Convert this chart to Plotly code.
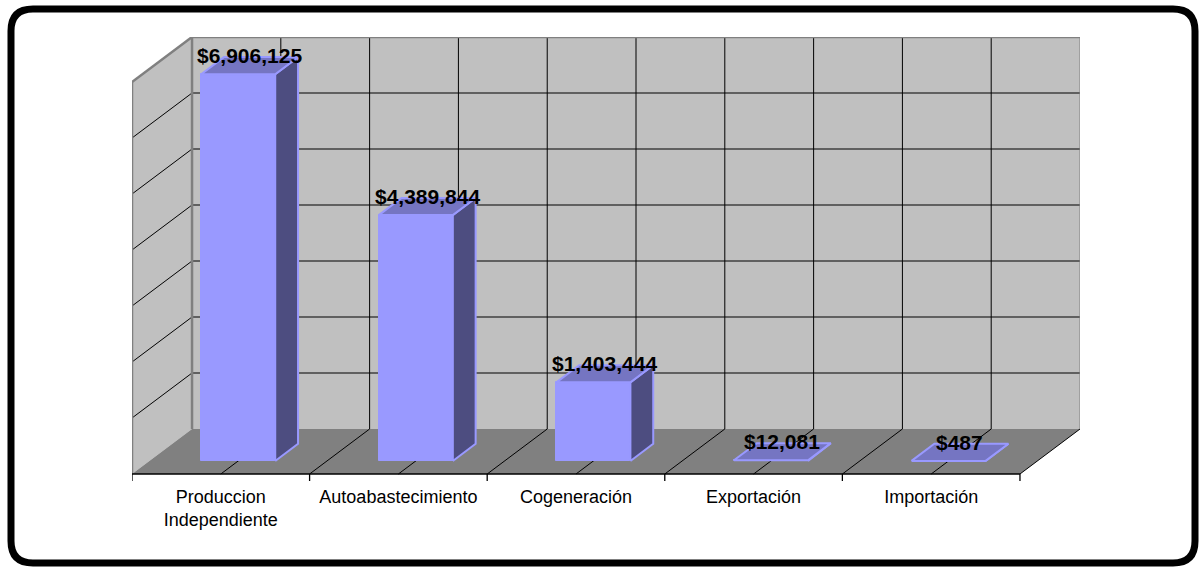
import plotly.graph_objects as go

# ---- data -------------------------------------------------------------
categories = ["Produccion<br>Independiente", "Autoabastecimiento",
              "Cogeneración", "Exportación", "Importación"]
values = [6906125, 4389844, 1403444, 12081, 487]

# value axis: 0 .. 7,000,000 with a gridline every 1,000,000
y_max = 7_000_000
y_step = 1_000_000

# ---- oblique 3-D projection (depth expressed in axis units) ----------
DX = 0.338          # horizontal shift of the back plane, category units
DY = 803_571        # vertical shift of the back plane, value units
D_FRONT = 0.29      # depth at which the bar front faces sit
D_BAR = 0.38        # bar depth as a fraction of the full depth
W = 0.417           # bar width, category units
Y_LO = -125_000     # room under the floor for the category ticks

n = len(categories)

FRONT = "#9999FF"
TOP = "#7575C2"
SIDE = "#4D4D80"
WALL = "#C0C0C0"
FLOOR = "#808080"
EDGE = "#808080"

# ---- figure geometry --------------------------------------------------
W_PX, H_PX = 1199, 567
M_L, M_R, M_T, M_B = 132, 119, 37, 86
x_range = [0, n + DX]
y_range = [Y_LO, y_max + DY]

shapes = []


def poly(pts, fill, line_color=None, width=0, layer="below"):
    path = "M " + " L ".join(f"{x},{y}" for x, y in pts) + " Z"
    shapes.append(dict(type="path", path=path, xref="x", yref="y",
                       fillcolor=fill, layer=layer,
                       line=dict(color=line_color or fill, width=width)))


def seg(x0, y0, x1, y1, color="black", width=1, layer="below"):
    shapes.append(dict(type="line", x0=x0, y0=y0, x1=x1, y1=y1,
                       xref="x", yref="y", layer=layer,
                       line=dict(color=color, width=width)))


# walls and floor
poly([(DX, DY), (n + DX, DY), (n + DX, y_max + DY), (DX, y_max + DY)], WALL)
poly([(0, 0), (DX, DY), (DX, y_max + DY), (0, y_max)], WALL)
poly([(0, 0), (n, 0), (n + DX, DY), (DX, DY)], FLOOR)

# gridlines on back wall and side wall
for k in range(1, int(y_max / y_step)):
    v = k * y_step
    seg(DX, v + DY, n + DX, v + DY)
    seg(0, v, DX, v + DY)
for j in range(1, 2 * n):
    x = j * 0.5
    seg(x + DX, DY, x + DX, y_max + DY)
# floor lines every half category
for j in range(1, 2 * n + 1):
    x = j * 0.5
    seg(x, 0, x + DX, DY)

# wall outlines
seg(DX, y_max + DY, n + DX, y_max + DY, EDGE, 2.5)
seg(0, y_max, DX, y_max + DY, EDGE, 2.5)
seg(0, 0, 0, y_max, EDGE, 2.5)
seg(DX, DY, DX, y_max + DY, EDGE, 2.5)
seg(n + DX, DY, n + DX, y_max + DY, EDGE, 1)

# category axis: front edge and tick marks
seg(0, 0, n, 0, "black", 1.3)
for i in range(n + 1):
    seg(i, 0, i, Y_LO, "black", 1.3)

# ---- bars -------------------------------------------------------------
fig = go.Figure()

front_x = [i + 0.5 + D_FRONT * DX for i in range(n)]
base = D_FRONT * DY
fig.add_trace(go.Bar(
    x=front_x, y=values, base=[base] * n, width=W,
    marker=dict(color=FRONT, line=dict(color=FRONT, width=1)),
    hoverinfo="skip", showlegend=False))

bdx, bdy = D_BAR * DX, D_BAR * DY
side_x, side_y, top_x, top_y = [], [], [], []
for fx, v in zip(front_x, values):
    x0, x1 = fx - W / 2, fx + W / 2
    b, t = base, base + v
    side_x += [x1, x1 + bdx, x1 + bdx, x1, x1, None]
    side_y += [b, b + bdy, t + bdy, t, b, None]
    top_x += [x0, x1, x1 + bdx, x0 + bdx, x0, None]
    top_y += [t, t, t + bdy, t + bdy, t, None]

fig.add_trace(go.Scatter(x=side_x, y=side_y, mode="lines", fill="toself",
                         fillcolor=SIDE, line=dict(color=FRONT, width=2),
                         hoverinfo="skip", showlegend=False))
fig.add_trace(go.Scatter(x=top_x, y=top_y, mode="lines", fill="toself",
                         fillcolor=TOP, line=dict(color=FRONT, width=2),
                         hoverinfo="skip", showlegend=False))

# value labels centred over each bar's top face
annotations = []
for fx, v in zip(front_x, values):
    annotations.append(dict(
        x=fx + bdx / 2, y=base + v + bdy / 2, xref="x", yref="y",
        text=f"${v:,}", showarrow=False, yanchor="middle", yshift=10,
        font=dict(family="Liberation Sans, Arial, sans-serif", size=21,
                  color="black", weight="bold")))

# ---- rounded outer frame (paper coordinates) --------------------------
plot_w = W_PX - M_L - M_R
plot_h = H_PX - M_T - M_B


def px2paper(px, py):
    return (px - M_L) / plot_w, (H_PX - M_B - py) / plot_h


fl, ft, fr, fb, rad = 11, 9, 1195, 563, 22
corners = [
    ("M", fl + rad, ft), ("L", fr - rad, ft), ("Q", fr, ft, fr, ft + rad),
    ("L", fr, fb - rad), ("Q", fr, fb, fr - rad, fb),
    ("L", fl + rad, fb), ("Q", fl, fb, fl, fb - rad),
    ("L", fl, ft + rad), ("Q", fl, ft, fl + rad, ft),
]
parts = []
for c in corners:
    cmd, coords = c[0], c[1:]
    pts = []
    for k in range(0, len(coords), 2):
        ax, ay = px2paper(coords[k], coords[k + 1])
        pts.append(f"{ax:.5f},{ay:.5f}")
    parts.append(cmd + " " + " ".join(pts))
shapes.append(dict(type="path", path=" ".join(parts) + " Z",
                   xref="paper", yref="paper", layer="above",
                   line=dict(color="black", width=7)))

fig.update_layout(
    width=W_PX, height=H_PX, autosize=False,
    margin=dict(l=M_L, r=M_R, t=M_T, b=M_B, pad=0),
    paper_bgcolor="white", plot_bgcolor="white",
    shapes=shapes, annotations=annotations,
    bargap=0, showlegend=False,
    xaxis=dict(range=x_range, showgrid=False, zeroline=False,
               showline=False, ticks="", tickmode="array",
               tickvals=[i + 0.5 for i in range(n)], ticktext=categories,
               tickfont=dict(family="Liberation Sans, Arial, sans-serif",
                             size=18, color="black"),
               ticklabelstandoff=3, fixedrange=True),
    yaxis=dict(range=y_range, visible=False, fixedrange=True),
)

fig.write_html("out.html", config={"displayModeBar": False})
